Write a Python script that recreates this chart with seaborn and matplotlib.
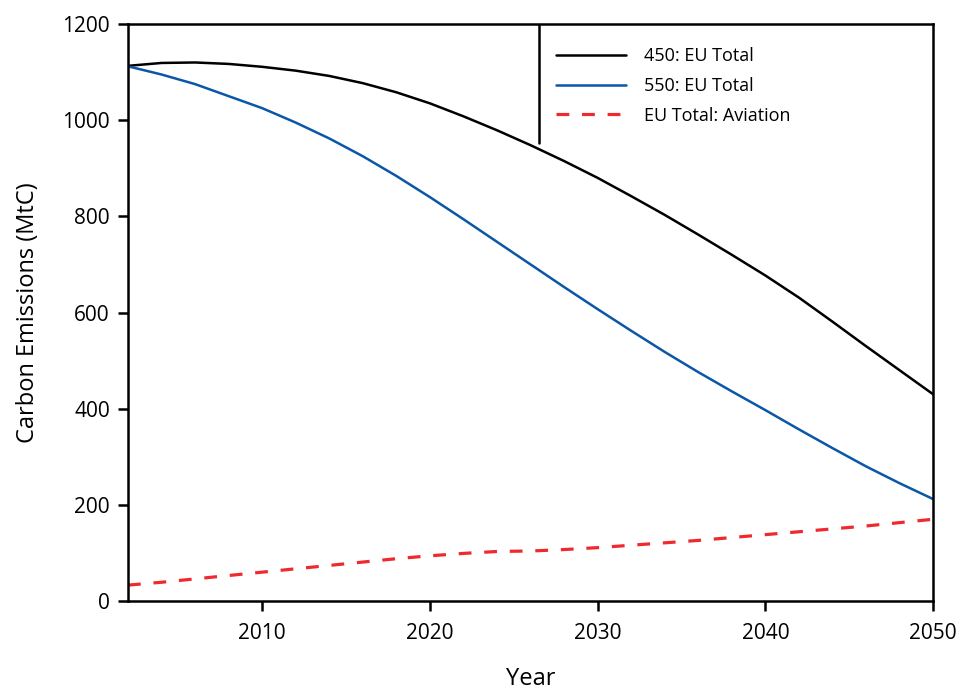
import numpy as np
import pandas as pd
import seaborn as sns
from matplotlib import pyplot as plt

# values
years = [2002, 2004, 2006, 2008, 2010, 2012, 2014, 2016, 2018, 2020, 2022, 2024, 2026,
         2028, 2030, 2032, 2034, 2036, 2038, 2040, 2042, 2044, 2046, 2048, 2050]
eu_450 = [1113, 1119, 1120, 1117, 1111, 1103, 1092, 1077, 1058, 1035, 1008, 979, 948,
          915, 880, 842, 803, 762, 720, 677, 631, 581, 530, 480, 430]
eu_550 = [1112, 1095, 1075, 1050, 1025, 995, 962, 925, 884, 840, 794, 747, 700,
          653, 607, 562, 518, 476, 436, 397, 357, 318, 280, 245, 212]
aviation = [33, 39, 46, 53, 60, 67, 74, 81, 88, 94, 99, 103, 104,
            107, 111, 116, 121, 126, 132, 138, 144, 150, 156, 163, 170]
series_names = ['450: EU Total', '550: EU Total', 'EU Total: Aviation']
marker_year = 2026.5
marker_bottom = 952

df = pd.DataFrame({'Year': years, series_names[0]: eu_450,
                   series_names[1]: eu_550, series_names[2]: aviation})
long_df = df.melt(id_vars='Year', var_name='Series', value_name='Emissions')

sns.set_theme(style='white')
plt.rcParams['font.family'] = ['Open Sans', 'DejaVu Sans']
plt.rcParams['text.color'] = 'black'
plt.rcParams['axes.labelcolor'] = 'black'
plt.rcParams['xtick.color'] = 'black'
plt.rcParams['ytick.color'] = 'black'

fig = plt.figure(figsize=(9.58, 6.92), dpi=100)
ax = fig.add_axes([0.1336, 0.1315, 0.8404, 0.8338])

colors = {'450: EU Total': '#000000', '550: EU Total': '#0a57a8', 'EU Total: Aviation': '#ee2a2f'}
dashes = {'450: EU Total': '', '550: EU Total': '', 'EU Total: Aviation': (4.0, 4.0)}
sns.lineplot(data=long_df, x='Year', y='Emissions', hue='Series', style='Series',
             palette=colors, dashes=dashes, linewidth=1.8, ax=ax)
ax.lines[2].set_linewidth(2.3)

# the vertical stroke near the legend
ax.plot([marker_year, marker_year], [marker_bottom, 1200], color='black', lw=1.8)

ax.set_xlim(2002, 2050)
ax.set_ylim(0, 1200)
ax.set_xticks([2010, 2020, 2030, 2040, 2050])
ax.set_yticks([0, 200, 400, 600, 800, 1000, 1200])
ax.tick_params(axis='both', direction='out', length=7, width=1.8, labelsize=15,
               bottom=True, left=True)
ax.tick_params(axis='x', pad=9)
ax.tick_params(axis='y', pad=6)
ax.set_xlabel('Year', fontsize=17, va='top')
ax.xaxis.set_label_coords(0.5, -0.114)
ax.set_ylabel('Carbon Emissions (MtC)', fontsize=17, labelpad=16)
for s in ax.spines.values():
    s.set_color('black')
    s.set_linewidth(1.8)

leg = ax.legend(loc='upper left', bbox_to_anchor=(0.511, 0.988), frameon=False,
                fontsize=13, handlelength=3.9, handletextpad=1.0, labelspacing=0.65)
for line, lw in zip(leg.get_lines(), [1.8, 1.8, 2.3]):
    line.set_linewidth(lw)

fig.savefig('out.png', dpi=100)
